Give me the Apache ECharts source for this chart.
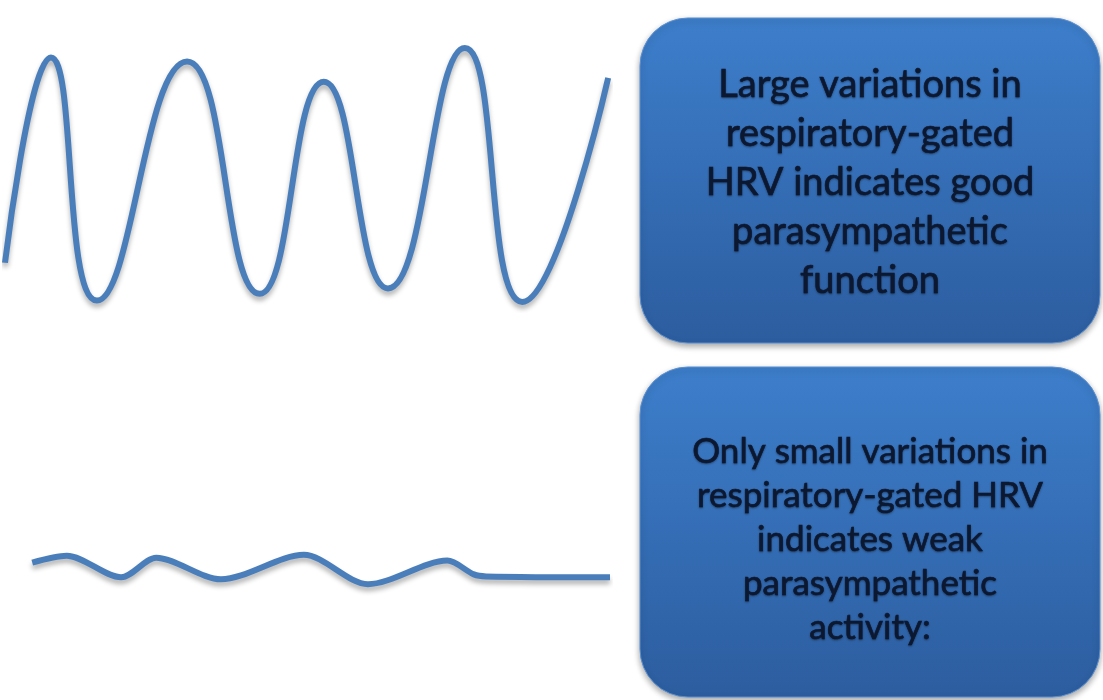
<!DOCTYPE html>
<html>
<head>
<meta charset="utf-8">
<script src="https://cdn.jsdelivr.net/npm/echarts@6/dist/echarts.min.js"></script>
<style>
  html, body { margin: 0; padding: 0; background: #fff; }
  #main { width: 1103px; height: 700px; }
</style>
</head>
<body>
<div id="main"></div>
<script>
// time (0-100) and amplitude (-1..1) of the turning points of each trace
const goodTime = [0, 7.6, 15.2, 30.1, 42.1, 52.7, 63.3, 76.0, 85.5, 99.7]
const goodAmp = [-0.65, 0.87, -0.93, 0.84, -0.88, 0.69, -0.84, 0.94, -0.94, 0.72]
const weakTime = [4.5, 10.2, 19.2, 25.0, 35.7, 49.4, 60.0, 73.1, 77.5, 79.5, 100]
const weakAmp = [0.037, 0.089, -0.074, 0.074, -0.089, 0.096, -0.126, 0.052, -0.052, -0.067, -0.074]

const goodText = ['Large variations in', 'respiratory-gated', 'HRV indicates good', 'parasympathetic', 'function']
const weakText = ['Only small variations in', 'respiratory-gated HRV', 'indicates weak', 'parasympathetic', 'activity:']

const lineColor = '#4a7ebb'
const textColor = '#0c1730'

const chart = echarts.init(document.getElementById('main'))

function pairs(xs, ys) {
  return xs.map((x, i) => [x, ys[i]])
}

function box(top, height) {
  return {
    type: 'rect',
    shape: { x: 640, y: top, width: 460, height: height, r: 48 },
    style: {
      fill: new echarts.graphic.LinearGradient(0, 0, 0, 1, [
        { offset: 0, color: '#3d7ecb' },
        { offset: 1, color: '#2c5d9f' }
      ]),
      stroke: '#5a8fd0',
      lineWidth: 1,
      shadowColor: 'rgba(0,0,0,0.35)',
      shadowBlur: 6,
      shadowOffsetY: 3
    },
    z: 10
  }
}

function label(lines, cy, size, lh) {
  return {
    type: 'text',
    style: {
      text: lines.join('\n'),
      x: 870,
      y: cy,
      fill: textColor,
      font: size + 'px Lato, "Open Sans", sans-serif',
      textAlign: 'center',
      textVerticalAlign: 'middle',
      lineHeight: lh,
      stroke: textColor,
      lineWidth: 0.6,
      textShadowColor: 'rgba(0,0,0,0.35)',
      textShadowBlur: 2,
      textShadowOffsetY: 1
    },
    z: 11
  }
}

const lineStyle = {
  color: lineColor,
  width: 6,
  shadowColor: 'rgba(0,0,0,0.3)',
  shadowBlur: 5,
  shadowOffsetY: 4
}

chart.setOption({
  animation: false,
  grid: [
    { left: 5, width: 605, top: 40, height: 270 },
    { left: 5, width: 605, top: 435, height: 270 }
  ],
  xAxis: [
    { type: 'value', gridIndex: 0, min: 0, max: 100, show: false },
    { type: 'value', gridIndex: 1, min: 0, max: 100, show: false }
  ],
  yAxis: [
    { type: 'value', gridIndex: 0, min: -1, max: 1, show: false },
    { type: 'value', gridIndex: 1, min: -1, max: 1, show: false }
  ],
  series: [
    {
      name: 'good',
      type: 'line',
      xAxisIndex: 0,
      yAxisIndex: 0,
      data: pairs(goodTime, goodAmp),
      smooth: 0.5,
      showSymbol: false,
      lineStyle: lineStyle
    },
    {
      name: 'weak',
      type: 'line',
      xAxisIndex: 1,
      yAxisIndex: 1,
      data: pairs(weakTime, weakAmp),
      smooth: 0.3,
      showSymbol: false,
      lineStyle: lineStyle
    }
  ],
  graphic: [
    box(18, 325),
    label(goodText, 183, 38, 49),
    box(367, 330),
    label(weakText, 540, 35, 44)
  ]
})
</script>
</body>
</html>
